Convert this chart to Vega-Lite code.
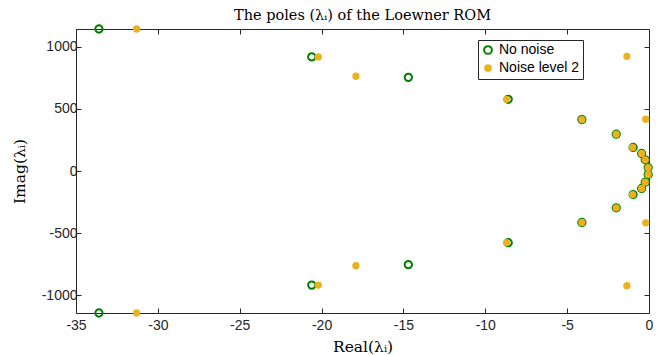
{
  "$schema": "https://vega.github.io/schema/vega-lite/v6.json",
  "width": 573,
  "height": 284,
  "autosize": {"type": "none"},
  "padding": {"left": 76, "top": 29, "right": 17, "bottom": 43},
  "background": "white",
  "title": {
    "text": "The poles (λᵢ) of the Loewner ROM",
    "font": "DejaVu Serif",
    "fontSize": 14.5,
    "fontWeight": "normal",
    "color": "black",
    "anchor": "middle",
    "offset": -2
  },
  "data": {
    "values": [
      {"re": -33.6, "im": 1145, "series": "No noise"},
      {"re": -33.6, "im": -1145, "series": "No noise"},
      {"re": -20.6, "im": 920, "series": "No noise"},
      {"re": -20.6, "im": -920, "series": "No noise"},
      {"re": -14.7, "im": 755, "series": "No noise"},
      {"re": -14.7, "im": -755, "series": "No noise"},
      {"re": -8.6, "im": 578, "series": "No noise"},
      {"re": -8.6, "im": -578, "series": "No noise"},
      {"re": -4.1, "im": 415, "series": "No noise"},
      {"re": -4.1, "im": -415, "series": "No noise"},
      {"re": -2.0, "im": 297, "series": "No noise"},
      {"re": -2.0, "im": -297, "series": "No noise"},
      {"re": -0.97, "im": 190, "series": "No noise"},
      {"re": -0.97, "im": -190, "series": "No noise"},
      {"re": -0.45, "im": 141, "series": "No noise"},
      {"re": -0.45, "im": -141, "series": "No noise"},
      {"re": -0.23, "im": 90, "series": "No noise"},
      {"re": -0.23, "im": -90, "series": "No noise"},
      {"re": -0.05, "im": 28, "series": "No noise"},
      {"re": -0.05, "im": -28, "series": "No noise"},
      {"re": -31.3, "im": 1145, "series": "Noise level 2"},
      {"re": -31.3, "im": -1145, "series": "Noise level 2"},
      {"re": -20.2, "im": 920, "series": "Noise level 2"},
      {"re": -20.2, "im": -920, "series": "Noise level 2"},
      {"re": -17.9, "im": 764, "series": "Noise level 2"},
      {"re": -17.9, "im": -764, "series": "Noise level 2"},
      {"re": -8.7, "im": 578, "series": "Noise level 2"},
      {"re": -8.7, "im": -578, "series": "Noise level 2"},
      {"re": -4.1, "im": 415, "series": "Noise level 2"},
      {"re": -4.1, "im": -415, "series": "Noise level 2"},
      {"re": -2.0, "im": 297, "series": "Noise level 2"},
      {"re": -2.0, "im": -297, "series": "Noise level 2"},
      {"re": -1.0, "im": 190, "series": "Noise level 2"},
      {"re": -1.0, "im": -190, "series": "Noise level 2"},
      {"re": -0.45, "im": 141, "series": "Noise level 2"},
      {"re": -0.45, "im": -141, "series": "Noise level 2"},
      {"re": -0.23, "im": 90, "series": "Noise level 2"},
      {"re": -0.23, "im": -90, "series": "Noise level 2"},
      {"re": -0.05, "im": 28, "series": "Noise level 2"},
      {"re": -0.05, "im": -28, "series": "Noise level 2"},
      {"re": -1.35, "im": 925, "series": "Noise level 2"},
      {"re": -1.35, "im": -925, "series": "Noise level 2"},
      {"re": -0.2, "im": 418, "series": "Noise level 2"},
      {"re": -0.2, "im": -418, "series": "Noise level 2"}
    ]
  },
  "layer": [
    {
      "mark": {"type": "point", "filled": true, "opacity": 1, "strokeWidth": 2, "size": 53},
      "encoding": {
        "x": {
          "field": "re", "type": "quantitative",
          "scale": {"domain": [-35, 0], "nice": false, "zero": false},
          "axis": {"orient": "bottom", "values": [-35, -30, -25, -20, -15, -10, -5, 0], "format": "d", "labelExpr": "replace(datum.label, '−', '-')", "labelPadding": 10, "title": "Real(λᵢ)", "titlePadding": 7}
        },
        "y": {
          "field": "im", "type": "quantitative",
          "scale": {"domain": [-1145, 1145], "nice": false, "zero": false},
          "axis": {"orient": "left", "values": [-1000, -500, 0, 500, 1000], "format": "d", "labelExpr": "replace(datum.label, '−', '-')", "title": "Imag(λᵢ)", "titlePadding": 14}
        },
        "fill": {
          "field": "series", "type": "nominal",
          "scale": {"domain": ["No noise", "Noise level 2"], "range": ["transparent", "#EDB120"]},
          "legend": {"title": null}
        },
        "stroke": {
          "field": "series", "type": "nominal",
          "scale": {"domain": ["No noise", "Noise level 2"], "range": ["#008000", "transparent"]},
          "legend": {"title": null}
        }
      }
    },
    {
      "mark": {"type": "point", "opacity": 0},
      "encoding": {
        "x": {
          "field": "re", "type": "quantitative",
          "axis": {"orient": "top", "values": [-35, -30, -25, -20, -15, -10, -5, 0], "labels": false, "title": null}
        },
        "y": {
          "field": "im", "type": "quantitative",
          "axis": {"orient": "right", "values": [-1000, -500, 0, 500, 1000], "labels": false, "title": null}
        }
      }
    }
  ],
  "resolve": {"axis": {"x": "independent", "y": "independent"}},
  "config": {
    "view": {"stroke": null},
    "axis": {
      "grid": false,
      "domainColor": "#262626",
      "domainWidth": 1,
      "tickColor": "#262626",
      "tickSize": -5,
      "labelFlush": false,
      "labelFont": "Liberation Sans",
      "labelFontSize": 14,
      "labelColor": "#262626",
      "labelPadding": 4,
      "titleFont": "DejaVu Serif",
      "titleFontSize": 15.5,
      "titleFontWeight": "normal",
      "titleColor": "black"
    },
    "legend": {
      "orient": "none",
      "legendX": 402,
      "legendY": 11,
      "strokeColor": "#262626",
      "fillColor": "white",
      "padding": 3,
      "labelFont": "Liberation Sans",
      "labelFontSize": 14,
      "labelColor": "black",
      "symbolStrokeWidth": 2,
      "symbolSize": 60,
      "rowPadding": 2
    }
  }
}
